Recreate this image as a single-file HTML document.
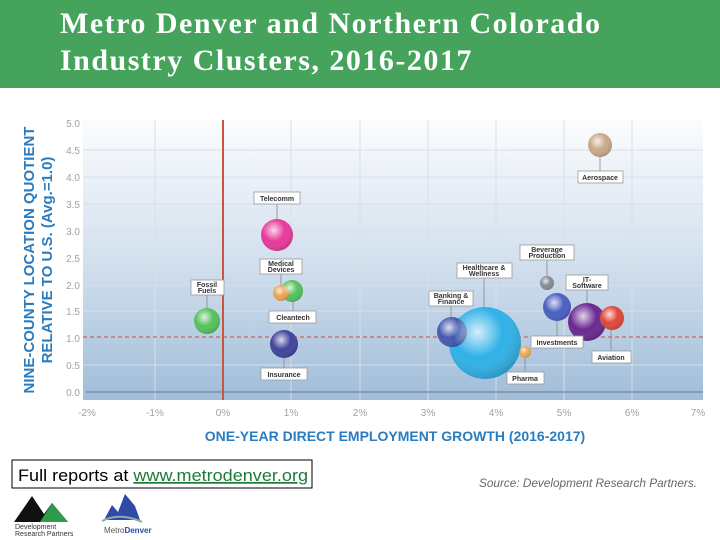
<!DOCTYPE html><html><head><style>
body{margin:0;width:720px;height:540px;background:#fff;overflow:hidden;position:relative;font-family:"Liberation Sans",sans-serif}
.t{position:absolute;left:0;top:0;width:720px;height:88px;background:#45a35c}
.t div{position:absolute;left:60px;top:5px;color:#fff;font:bold 30px/37px "Liberation Serif",serif;letter-spacing:1.5px;white-space:nowrap}
</style></head><body>
<div class="t"><div>Metro Denver and Northern Colorado<br>Industry Clusters, 2016-2017</div></div>
<svg width="720" height="452" style="position:absolute;left:0;top:88px" viewBox="0 88 720 452">
<defs>
<linearGradient id="bg" x1="0" y1="0" x2="0" y2="1"><stop offset="0" stop-color="#fbfcfe"/><stop offset="0.5" stop-color="#d3e0ee"/><stop offset="1" stop-color="#a0bdd9"/></linearGradient>
<radialGradient id="g" cx="0.4" cy="0.35" r="0.7"><stop offset="0" stop-color="#fff" stop-opacity="0.8"/><stop offset="0.5" stop-color="#fff" stop-opacity="0"/><stop offset="1" stop-color="#000" stop-opacity="0.2"/></radialGradient>
</defs>
<rect x="83" y="120" width="620" height="280" fill="url(#bg)"/>
<g stroke="#d8dfe8" stroke-width="1">
<line x1="83" x2="703" y1="150" y2="150"/><line x1="83" x2="703" y1="177" y2="177"/><line x1="83" x2="703" y1="204" y2="204"/><line x1="83" x2="703" y1="231" y2="231"/><line x1="83" x2="703" y1="258" y2="258"/><line x1="83" x2="703" y1="285" y2="285"/><line x1="83" x2="703" y1="311" y2="311"/><line x1="83" x2="703" y1="365" y2="365"/>
<line x1="155" x2="155" y1="120" y2="400"/><line x1="291" x2="291" y1="120" y2="400"/><line x1="360" x2="360" y1="120" y2="400"/><line x1="428" x2="428" y1="120" y2="400"/><line x1="496" x2="496" y1="120" y2="400"/><line x1="564" x2="564" y1="120" y2="400"/><line x1="632" x2="632" y1="120" y2="400"/>
</g>
<line x1="86" x2="703" y1="392" y2="392" stroke="#7f8fa3" stroke-width="1.5"/>
<line x1="83" x2="703" y1="337" y2="337" stroke="#c9776a" stroke-width="1.5" stroke-dasharray="4,3"/>
<line x1="223" x2="223" y1="120" y2="400" stroke="#c8553c" stroke-width="2"/>
<g font-size="10" fill="#9aa3ad" text-anchor="end">
<text x="80" y="127">5.0</text><text x="80" y="154">4.5</text><text x="80" y="181">4.0</text><text x="80" y="208">3.5</text><text x="80" y="235">3.0</text><text x="80" y="262">2.5</text><text x="80" y="289">2.0</text><text x="80" y="315">1.5</text><text x="80" y="342">1.0</text><text x="80" y="369">0.5</text><text x="80" y="396">0.0</text>
</g>
<g font-size="10" fill="#9aa3ad" text-anchor="middle">
<text x="87" y="416">-2%</text><text x="155" y="416">-1%</text><text x="223" y="416">0%</text><text x="291" y="416">1%</text><text x="360" y="416">2%</text><text x="428" y="416">3%</text><text x="496" y="416">4%</text><text x="564" y="416">5%</text><text x="632" y="416">6%</text><text x="698" y="416">7%</text>
</g>
<text x="395" y="441" text-anchor="middle" font-size="14" font-weight="bold" fill="#2a7cbf">ONE-YEAR DIRECT EMPLOYMENT GROWTH (2016-2017)</text>
<g transform="translate(34,260) rotate(-90)" font-size="15" font-weight="bold" fill="#2a7cbf" text-anchor="middle"><text x="0" y="0">NINE-COUNTY LOCATION QUOTIENT</text><text x="0" y="18">RELATIVE TO U.S. (Avg.=1.0)</text></g>
<g stroke="#888" stroke-width="0.8">
<line x1="600" x2="600" y1="157" y2="172"/><line x1="277" x2="277" y1="203" y2="219"/><line x1="281" x2="281" y1="272" y2="286"/><line x1="207" x2="207" y1="295" y2="308"/><line x1="293" x2="293" y1="300" y2="313"/><line x1="284" x2="284" y1="358" y2="369"/><line x1="547" x2="547" y1="260" y2="276"/><line x1="484" x2="484" y1="277" y2="308"/><line x1="451" x2="451" y1="305" y2="318"/><line x1="587" x2="587" y1="290" y2="303"/><line x1="557" x2="557" y1="321" y2="338"/><line x1="611" x2="611" y1="330" y2="353"/><line x1="525" x2="525" y1="358" y2="374"/>
</g>
<g>
<circle cx="485" cy="343" r="36" fill="#2fb1e8"/>
<circle cx="452" cy="332" r="15" fill="#3b4fa8" opacity="0.9"/>
<circle cx="525" cy="352" r="6" fill="#e8a955"/>
<circle cx="600" cy="145" r="12" fill="#c8a98a"/>
<circle cx="277" cy="235" r="16" fill="#e8399a"/>
<circle cx="292" cy="291" r="11" fill="#55c15c"/>
<circle cx="281" cy="293" r="8" fill="#eba450"/>
<circle cx="207" cy="321" r="13" fill="#55c15c"/>
<circle cx="284" cy="344" r="14" fill="#3f449c"/>
<circle cx="547" cy="283" r="7" fill="#858d95"/>
<circle cx="557" cy="307" r="14" fill="#4a5fc0"/>
<circle cx="587" cy="322" r="19" fill="#6a2890"/>
<circle cx="612" cy="318" r="12" fill="#e0463a"/>
</g>
<g fill="url(#g)">
<circle cx="485" cy="343" r="36"/><circle cx="452" cy="332" r="15"/><circle cx="525" cy="352" r="6"/><circle cx="600" cy="145" r="12"/><circle cx="277" cy="235" r="16"/><circle cx="292" cy="291" r="11"/><circle cx="281" cy="293" r="8"/><circle cx="207" cy="321" r="13"/><circle cx="284" cy="344" r="14"/><circle cx="547" cy="283" r="7"/><circle cx="557" cy="307" r="14"/><circle cx="587" cy="322" r="19"/><circle cx="612" cy="318" r="12"/>
</g>
<g fill="#fff" stroke="#999" stroke-width="0.8">
<rect x="578" y="171" width="45" height="12"/><rect x="254" y="192" width="46" height="12"/><rect x="260" y="259" width="42" height="15"/><rect x="191" y="280" width="33" height="15"/><rect x="269" y="311" width="47" height="12"/><rect x="261" y="368" width="46" height="12"/><rect x="520" y="245" width="54" height="15"/><rect x="457" y="263" width="55" height="15"/><rect x="429" y="291" width="44" height="15"/><rect x="566" y="275" width="42" height="15"/><rect x="531" y="336" width="52" height="12"/><rect x="592" y="351" width="39" height="12"/><rect x="507" y="372" width="37" height="12"/>
</g>
<g font-size="7" font-weight="bold" fill="#333" text-anchor="middle">
<text x="600" y="180">Aerospace</text><text x="277" y="201">Telecomm</text><text x="281" y="266">Medical</text><text x="281" y="272">Devices</text><text x="207" y="287">Fossil</text><text x="207" y="293">Fuels</text><text x="293" y="320">Cleantech</text><text x="284" y="377">Insurance</text><text x="547" y="252">Beverage</text><text x="547" y="258">Production</text><text x="484" y="270">Healthcare &amp;</text><text x="484" y="276">Wellness</text><text x="451" y="298">Banking &amp;</text><text x="451" y="304">Finance</text><text x="587" y="282">IT-</text><text x="587" y="288">Software</text><text x="557" y="345">Investments</text><text x="611" y="360">Aviation</text><text x="525" y="381">Pharma</text>
</g>
<rect x="12" y="460" width="300" height="28" fill="#fff" stroke="#000" stroke-width="1"/>
<text x="18" y="481" font-size="17" fill="#000" textLength="290" lengthAdjust="spacingAndGlyphs">Full reports at <tspan fill="#1f7a3a" text-decoration="underline">www.metrodenver.org</tspan></text>
<text x="479" y="487" font-size="11.5" font-style="italic" fill="#666" textLength="218" lengthAdjust="spacingAndGlyphs">Source: Development Research Partners.</text>
<polygon points="14,522 32,496 44,514 52,503 68,522" fill="#111"/><polygon points="40,522 52,503 68,522" fill="#2d9c4a"/>
<text x="15" y="529" font-size="7" fill="#333">Development</text><text x="15" y="536" font-size="7" fill="#333">Research Partners</text>
<polygon points="104,520 112,505 118,512 125,494 135,506 140,520" fill="#2f4aa6"/>
<path d="M102,521 Q120,512 142,522" stroke="#8aa" stroke-width="2" fill="none"/>
<text x="104" y="533" font-size="8" fill="#555">Metro<tspan fill="#2f4aa6" font-weight="bold">Denver</tspan></text>
</svg>
</body></html>
